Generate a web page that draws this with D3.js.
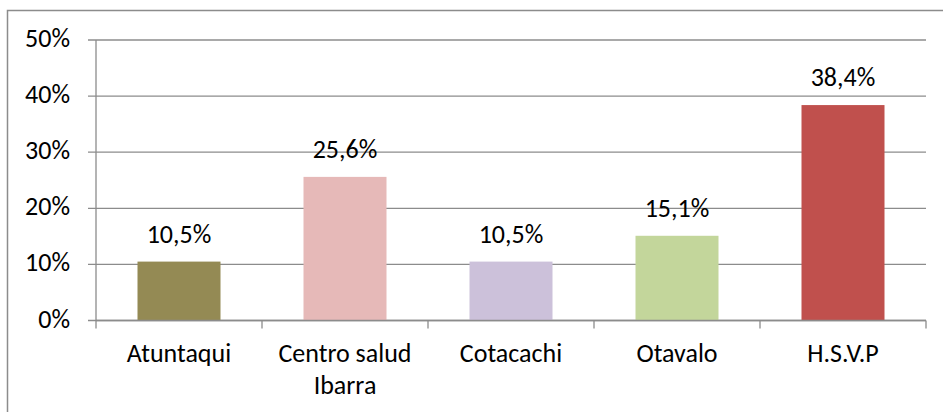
<!DOCTYPE html>
<html>
<head>
<meta charset="utf-8">
<script src="https://cdn.jsdelivr.net/npm/d3@7"></script>
<style>
  body { margin: 0; background: #fff; }
  text { font-family: Carlito, Calibri, "Open Sans", sans-serif; fill: #000; }
</style>
</head>
<body>
<svg id="chart" width="943" height="412"></svg>
<script>
// chart values
const categories = ["Atuntaqui", "Centro salud Ibarra", "Cotacachi", "Otavalo", "H.S.V.P"];
const values = [10.5, 25.6, 10.5, 15.1, 38.4];
const colors = ["#948A54", "#E6B9B8", "#CCC1DA", "#C3D69B", "#C0504D"];
const yTicks = [0, 10, 20, 30, 40, 50];

const width = 943;
const height = 412;
const margin = {top: 40, right: 17, bottom: 91.5, left: 96};
const fontSize = "26px";

const svg = d3.select("#chart");

// outer chart border (right/bottom run off the picture)
svg.append("rect")
    .attr("x", 7.5).attr("y", 10.5)
    .attr("width", 945).attr("height", 420)
    .attr("fill", "none")
    .attr("stroke", "#8c8c8c")
    .attr("stroke-width", 1.5);

const x = d3.scaleBand()
    .domain(categories)
    .range([margin.left, width - margin.right])
    .paddingInner(0.5)
    .paddingOuter(0.25);

const y = d3.scaleLinear()
    .domain([0, 50])
    .range([height - margin.bottom, margin.top]);

// gridlines
svg.append("g")
    .selectAll("line")
    .data(yTicks)
    .enter().append("line")
    .attr("x1", margin.left - 8)
    .attr("x2", width - margin.right)
    .attr("y1", d => y(d))
    .attr("y2", d => y(d))
    .attr("stroke", "#8c8c8c")
    .attr("stroke-width", 1.3);

// y axis line
svg.append("line")
    .attr("x1", margin.left).attr("x2", margin.left)
    .attr("y1", y(50)).attr("y2", y(0))
    .attr("stroke", "#8c8c8c")
    .attr("stroke-width", 1.3);

// y tick labels
svg.append("g")
    .selectAll("text")
    .data(yTicks)
    .enter().append("text")
    .attr("x", 70)
    .attr("y", d => y(d) + 7)
    .attr("text-anchor", "end")
    .style("font-size", fontSize)
    .text(d => d + "%");

// bars
svg.append("g")
    .selectAll("rect")
    .data(values)
    .enter().append("rect")
    .attr("x", (d, i) => x(categories[i]))
    .attr("width", x.bandwidth())
    .attr("y", d => y(d))
    .attr("height", d => y(0) - y(d))
    .attr("fill", (d, i) => colors[i]);

// x axis line + ticks at category boundaries
const step = x.step();
const boundaries = d3.range(categories.length + 1).map(i => margin.left + i * step);
svg.append("line")
    .attr("x1", margin.left).attr("x2", width - margin.right)
    .attr("y1", y(0)).attr("y2", y(0))
    .attr("stroke", "#8c8c8c")
    .attr("stroke-width", 1.3);
svg.append("g")
    .selectAll("line")
    .data(boundaries)
    .enter().append("line")
    .attr("x1", d => d).attr("x2", d => d)
    .attr("y1", y(0)).attr("y2", y(0) + 8)
    .attr("stroke", "#8c8c8c")
    .attr("stroke-width", 1.3);

// data labels
svg.append("g")
    .selectAll("text")
    .data(values)
    .enter().append("text")
    .attr("x", (d, i) => x(categories[i]) + x.bandwidth() / 2)
    .attr("y", d => y(d) - 19)
    .attr("text-anchor", "middle")
    .style("font-size", fontSize)
    .text(d => d.toFixed(1).replace(".", ",") + "%");

// category labels, wrapped like the original
const catLines = {"Centro salud Ibarra": ["Centro salud", "Ibarra"]};
const catText = svg.append("g")
    .selectAll("text")
    .data(categories)
    .enter().append("text")
    .attr("x", d => x(d) + x.bandwidth() / 2)
    .attr("y", 362)
    .attr("text-anchor", "middle")
    .style("font-size", fontSize);
catText.each(function(d) {
    const lines = catLines[d] || [d];
    lines.forEach((l, j) => {
        d3.select(this).append("tspan")
            .attr("x", x(d) + x.bandwidth() / 2)
            .attr("dy", j === 0 ? 0 : 32)
            .text(l);
    });
});
</script>
</body>
</html>
